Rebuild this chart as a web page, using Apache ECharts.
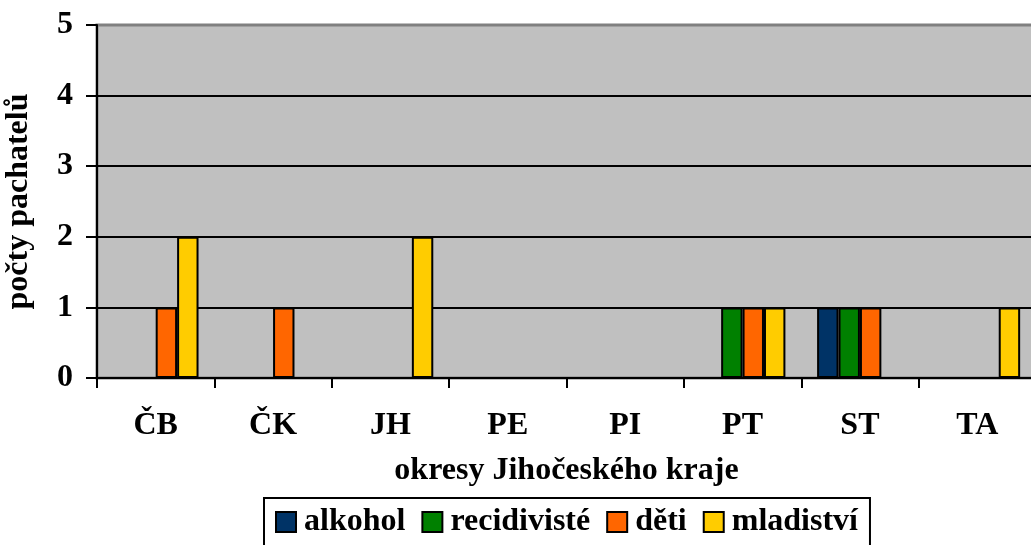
<!DOCTYPE html>
<html>
<head>
<meta charset="utf-8">
<script src="https://cdn.jsdelivr.net/npm/echarts@6/dist/echarts.min.js"></script>
<style>
  html, body { margin: 0; padding: 0; background: #fff; }
  #chart { width: 1031px; height: 545px; }
</style>
</head>
<body>
<div id="chart"></div>
<script>
const districts = ['ČB', 'ČK', 'JH', 'PE', 'PI', 'PT', 'ST', 'TA'];
const alkohol = [0, 0, 0, 0, 0, 0, 1, 0];
const recidiviste = [0, 0, 0, 0, 0, 1, 1, 0];
const deti = [1, 1, 0, 0, 0, 1, 1, 0];
const mladistvi = [2, 0, 2, 0, 0, 1, 0, 1];

const font = 'Liberation Serif';
const fs = 32;

const chart = echarts.init(document.getElementById('chart'), null, { renderer: 'canvas' });

function bar(name, data, color) {
  return {
    name: name,
    type: 'bar',
    data: data,
    barGap: '0%',
    barCategoryGap: '27%',
    itemStyle: { color: color, borderColor: '#000', borderWidth: 2 },
  };
}

chart.setOption({
  animation: false,
  textStyle: { fontFamily: font },
  grid: {
    left: 97,
    right: -5,
    top: 25,
    bottom: 167,
    outerBoundsMode: 'none',
    containLabel: false,
    show: true,
    backgroundColor: '#c0c0c0',
    borderColor: '#808080',
    borderWidth: 3,
  },
  xAxis: {
    type: 'category',
    data: districts,
    name: 'okresy Jihočeského kraje',
    nameLocation: 'middle',
    nameGap: 77,
    nameTextStyle: { fontFamily: font, fontWeight: 'bold', fontSize: fs, color: '#000' },
    axisLine: { lineStyle: { color: '#000', width: 2 } },
    axisTick: { show: true, length: 10, lineStyle: { color: '#000', width: 2 } },
    axisLabel: { margin: 32, fontFamily: font, fontWeight: 'bold', fontSize: fs, color: '#000' },
  },
  yAxis: {
    type: 'value',
    min: 0,
    max: 5,
    interval: 1,
    name: 'počty pachatelů',
    nameLocation: 'middle',
    nameGap: 62,
    nameTextStyle: { fontFamily: font, fontWeight: 'bold', fontSize: fs, color: '#000' },
    axisLine: { show: true, lineStyle: { color: '#000', width: 2 } },
    axisTick: { show: true, length: 11, lineStyle: { color: '#000', width: 2 } },
    axisLabel: { margin: 24, fontFamily: font, fontWeight: 'bold', fontSize: fs, color: '#000' },
    splitLine: { lineStyle: { color: ['#000', '#000', '#000', '#000', '#000', '#808080'], width: 2 } },
  },
  legend: {
    left: 264,
    top: 498,
    padding: [8, 12, 8, 11],
    borderColor: '#000',
    borderWidth: 2,
    backgroundColor: '#fff',
    icon: 'rect',
    itemWidth: 20,
    itemHeight: 20,
    itemGap: 16,
    itemStyle: { borderColor: '#000', borderWidth: 2 },
    textStyle: { fontFamily: font, fontWeight: 'bold', fontSize: fs, color: '#000', padding: [0, 0, 0, 3] },
  },
  series: [
    bar('alkohol', alkohol, '#003366'),
    bar('recidivisté', recidiviste, '#008000'),
    bar('děti', deti, '#ff6600'),
    bar('mladiství', mladistvi, '#ffcc00'),
  ],
});
</script>
</body>
</html>
